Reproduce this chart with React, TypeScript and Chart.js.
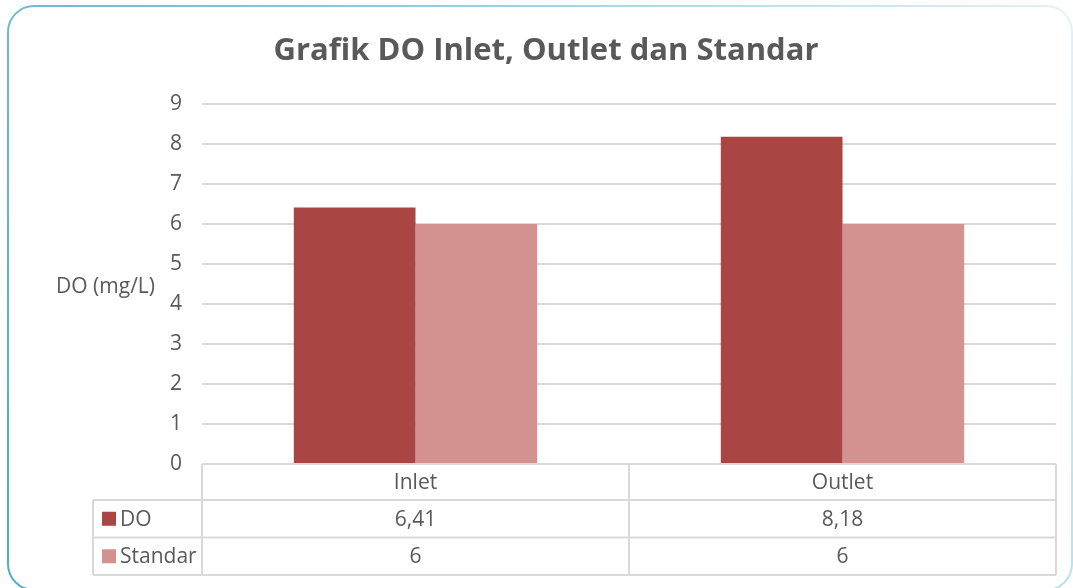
import React, { useEffect, useRef } from "react";
import { Chart, registerables } from "chart.js";

Chart.register(...registerables);

const categories = ["Inlet", "Outlet"];
const seriesNames = ["DO", "Standar"];
const doValues = [6.41, 8.18];
const standarValues = [6, 6];
const yTicks = [0, 1, 2, 3, 4, 5, 6, 7, 8, 9];
const titleText = "Grafik DO Inlet, Outlet dan Standar";
const yTitle = "DO (mg/L)";

const DO_COLOR = "rgb(169,70,68)";
const STD_COLOR = "rgb(211,145,144)";
const TEXT = "#595959";
const LINE = "#D9D9D9";
const FONT = "'Open Sans', sans-serif";
const FS = 21;

const fmt = (v: number) => String(v).replace(".", ",");

const extrasPlugin = {
  id: "extras",
  beforeDraw(chart: any) {
    const ctx = chart.ctx;
    ctx.save();
    const g = ctx.createLinearGradient(0, 588, 1073, 0);
    g.addColorStop(0, "#4BACC6");
    g.addColorStop(0.5, "#8CCBDC");
    g.addColorStop(1, "#E3F2F7");
    ctx.strokeStyle = g;
    ctx.lineWidth = 2;
    ctx.beginPath();
    (ctx as any).roundRect(8, 6, 1064, 584, 26);
    ctx.stroke();
    ctx.restore();
  },
  afterDraw(chart: any) {
    const ctx = chart.ctx;
    const area = chart.chartArea;
    const x = chart.scales.x;
    ctx.save();
    ctx.fillStyle = TEXT;
    ctx.font = `bold 31px ${FONT}`;
    ctx.textAlign = "center";
    ctx.textBaseline = "middle";
    ctx.fillText(titleText, 546, 51);
    ctx.font = `${FS}px ${FONT}`;
    ctx.textAlign = "right";
    ctx.fillText(yTitle, 155, (area.top + area.bottom) / 2 + 3);

    const left = area.left;
    const right = area.right;
    const top = area.bottom;
    const headerH = 36;
    const rowH = 37.5;
    const legendLeft = 93;
    const bounds: number[] = [left];
    for (let i = 0; i < categories.length - 1; i++) {
      bounds.push((x.getPixelForValue(i) + x.getPixelForValue(i + 1)) / 2);
    }
    bounds.push(right);
    const bottom = top + headerH + rowH * seriesNames.length;
    ctx.strokeStyle = LINE;
    ctx.lineWidth = 2;
    ctx.beginPath();
    ctx.moveTo(left, top);
    ctx.lineTo(right, top);
    for (let r = 0; r <= seriesNames.length; r++) {
      const yy = top + headerH + rowH * r;
      ctx.moveTo(legendLeft, yy);
      ctx.lineTo(right, yy);
    }
    bounds.forEach((bx) => {
      ctx.moveTo(bx, top);
      ctx.lineTo(bx, bottom);
    });
    ctx.moveTo(legendLeft, top + headerH);
    ctx.lineTo(legendLeft, bottom);
    ctx.stroke();

    ctx.fillStyle = TEXT;
    ctx.font = `${FS}px ${FONT}`;
    ctx.textAlign = "center";
    ctx.textBaseline = "middle";
    categories.forEach((c, i) => {
      ctx.fillText(c, x.getPixelForValue(i), top + headerH / 2 + 1);
    });
    const rows = [doValues, standarValues];
    const colors = [DO_COLOR, STD_COLOR];
    rows.forEach((vals, r) => {
      const cy = top + headerH + rowH * r + rowH / 2 + 1;
      ctx.fillStyle = colors[r];
      ctx.fillRect(legendLeft + 9, cy - 8, 14, 14);
      ctx.fillStyle = TEXT;
      ctx.textAlign = "left";
      ctx.fillText(seriesNames[r], legendLeft + 27, cy);
      ctx.textAlign = "center";
      vals.forEach((v, i) => {
        ctx.fillText(fmt(v), x.getPixelForValue(i), cy);
      });
    });
    ctx.restore();
  },
};

export default function App() {
  const ref = useRef<HTMLCanvasElement | null>(null);
  useEffect(() => {
    if (!ref.current) return;
    const chart = new Chart(ref.current, {
      type: "bar",
      data: {
        labels: categories,
        datasets: [
          { label: seriesNames[0], data: doValues, backgroundColor: DO_COLOR },
          { label: seriesNames[1], data: standarValues, backgroundColor: STD_COLOR },
        ],
      },
      options: {
        animation: false,
        responsive: false,
        devicePixelRatio: 1,
        layout: { padding: { top: 104, right: 17, bottom: 124, left: 0 } },
        datasets: { bar: { categoryPercentage: 0.57, barPercentage: 1 } },
        plugins: {
          legend: { display: false },
          title: { display: false },
          tooltip: { enabled: false },
        },
        scales: {
          x: { display: false },
          y: {
            min: 0,
            max: 9,
            afterFit: (s: any) => {
              s.width = 202;
            },
            afterBuildTicks: (s: any) => {
              s.ticks = yTicks.map((v) => ({ value: v }));
            },
            border: { display: false },
            grid: { color: (c: any) => (c.tick && c.tick.value === 0 ? "rgba(0,0,0,0)" : LINE), lineWidth: 2, drawTicks: false },
            ticks: { color: TEXT, padding: 20, font: { family: FONT, size: FS } },
          },
        },
      },
      plugins: [extrasPlugin],
    });
    return () => chart.destroy();
  }, []);
  return (
    <div style={{ position: "absolute", left: 0, top: 0, width: 1073, height: 588, background: "#fff" }}>
      <canvas ref={ref} width={1073} height={588} style={{ display: "block" }} />
    </div>
  );
}
